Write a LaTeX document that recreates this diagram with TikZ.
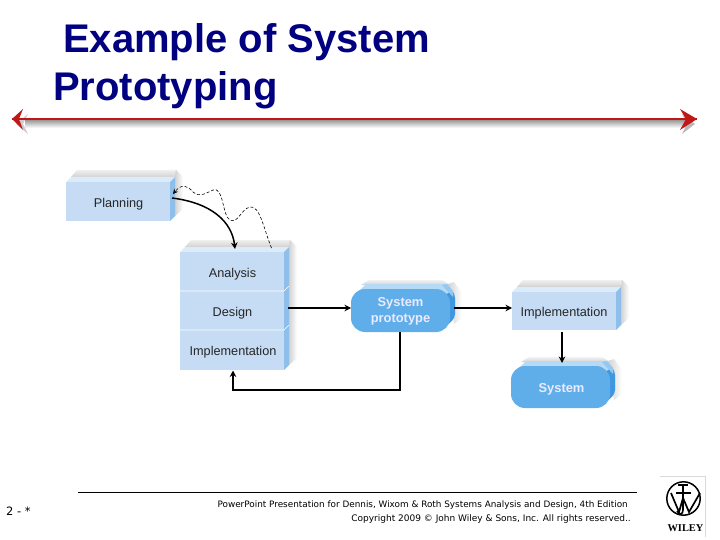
\documentclass[tikz,border=0pt]{standalone}
\usepackage{fontspec}
\setmainfont{Liberation Sans}
\newfontfamily\foot{DejaVu Sans}
\newfontfamily\wil{Liberation Serif}
\usetikzlibrary{arrows.meta,calc}
\definecolor{front}{HTML}{C5DCF4}
\definecolor{sidec}{HTML}{8DBFEA}
\definecolor{topc}{HTML}{DCEBFA}
\definecolor{shadowc}{HTML}{D2D2D2}
\definecolor{bluec}{HTML}{5FAEEA}
\definecolor{bluedark}{HTML}{3F97E0}
\definecolor{bluelight}{HTML}{B5DAF5}
\definecolor{navy}{HTML}{000080}
\definecolor{redl}{HTML}{C01818}
\tikzset{
 x=1pt,y=-1pt,
 lbl/.style={font=\fontsize{12.7}{14}\selectfont,text=black!85,inner sep=0pt},
 wlbl/.style={font=\fontsize{12.9}{16}\selectfont\bfseries,text=white!92!blue,align=center,inner sep=0pt},
 flow/.style={draw=black,line width=1.2pt,-{Stealth[length=6.5pt,width=6.5pt]}},
 ttl/.style={font=\fontsize{40}{48}\selectfont\bfseries,text=navy,anchor=base west,inner sep=0pt},
 foottext/.style={font=\fontsize{8.85}{11}\selectfont\foot,text=black,inner sep=0pt},
}
\newcommand{\slab}[4]{% x1,y1,x2,y2 front face
 \shade[top color=black!6,bottom color=shadowc] (#1+5,#2-5) -- (#1+11,#2-12) -- (#3+6,#2-12) -- (#3+5,#2-5) -- cycle;
 \shade[left color=shadowc,right color=white] (#3+5,#2-5) -- (#3+6,#2-12) -- (#3+13,#2-5) -- (#3+13,#4-12) -- (#3+5,#4-5) -- cycle;
 \fill[topc] (#1,#2) -- (#1+5,#2-5) -- (#3+5,#2-5) -- (#3,#2) -- cycle;
 \fill[sidec] (#3,#2) -- (#3+5,#2-5) -- (#3+5,#4-5) -- (#3,#4) -- cycle;
 \fill[front] (#1,#2) rectangle (#3,#4);
}
\newcommand{\pill}[4]{%
 \shade[top color=black!5,bottom color=shadowc] (#1+10,#2-4) -- (#1+18,#2-9) -- (#3-8,#2-9) -- (#3,#2-4) -- cycle;
 \shade[left color=shadowc,right color=white] (#3-2,#2-5) -- (#3+4,#2-7) -- (#3+12,#2+4) -- (#3+12,#4-14) -- (#3+4,#4-8) -- cycle;
 \fill[bluedark,rounded corners=4pt] (#3-14,#2+0) -- (#3-1,#2-2) -- (#3+5,#2+5) -- (#3+5,#4-14) -- (#3-8,#4-2) -- (#3-14,#4-2) -- cycle;
 \fill[bluelight] (#1+8,#2+2) -- (#1+15,#2-5) -- (#3-6,#2-5) -- (#3+1,#2+2) -- (#3-5,#2+6) -- cycle;
 \fill[bluelight!60!bluec] (#3-8,#2-4) -- (#3-3,#2-5) -- (#3+3,#2+2) -- (#3+3,#2+8) -- cycle;
 \fill[bluec,rounded corners=14pt] (#1,#2) rectangle (#3,#4);
}
\begin{document}
\begin{tikzpicture}
\useasboundingbox (0,0) rectangle (720,540);
\fill[white] (0,0) rectangle (720,540);
% title
\node[ttl] (t1) at (63,53) {Example of System};
\node[ttl] (t2) at (53,101) {Prototyping};
% red rule with shadow
\coordinate (rl) at (12,119);
\coordinate (rr) at (697,119);
\shade[top color=black!35,bottom color=white] (25,121) rectangle (688,128);
\fill[black!28] (695,124) -- (682,114) -- (687,124) -- (682,134) -- cycle;
\fill[black!20] (16,124) -- (28,114) -- (23,124) -- (28,134) -- cycle;
\draw[redl,line width=2.2pt] (rl) -- (rr);
\fill[redl] (rl) -- (23,109) -- (19,119) -- (23,130) -- cycle;
\fill[redl] (rr) -- (680,109) -- (686,119) -- (680,130) -- cycle;
% boxes
\slab{66}{182}{170}{221}
\slab{180}{252}{284}{370}
\slab{512}{292}{616}{330}
\pill{351}{289}{450}{332}
\pill{511}{366}{610}{408}
\draw[white,line width=.7pt] (180,291) -- (284,291) -- (289,286);
\draw[white,line width=.7pt] (180,330) -- (284,330) -- (289,325);
% named nodes
\node[lbl] (plan) at (118.5,204) {Planning};
\node[lbl] (ana) at (232.5,274) {Analysis};
\node[lbl] (des) at (232.5,313) {Design};
\node[lbl] (imp) at (233,352) {Implementation};
\node[wlbl] (sp) at (400.5,311.5) {System\\prototype};
\node[lbl] (imp2) at (564,313.5) {Implementation};
\node[wlbl] (sys) at (561.5,389) {System};
% anchors for connectors
\coordinate (planE) at (172,198);
\coordinate (anaN) at (235,249);
\coordinate (back) at (271.5,248);
\coordinate (planEr) at (173,194);
\coordinate (desE) at (288,308);
\coordinate (spW) at (351,308);
\coordinate (spE) at (454,308);
\coordinate (imp2W) at (512,308);
\coordinate (imp2S) at (562,332);
\coordinate (sysN) at (562,363);
\coordinate (spS) at (400,332);
\coordinate (impS) at (233,370.5);
% connectors
\draw[flow,line width=1.5pt] (planE) .. controls (212,203) and (232,222) .. (anaN);
\draw[black,line width=.6pt,densely dashed,-{Stealth[length=5pt,width=5pt]}]
  (back) .. controls (264,230) and (260,205) .. (250,207)
  .. controls (241,209) and (238,224) .. (230,220)
  .. controls (222,216) and (224,186) .. (213,190)
  .. controls (206,193) and (200,198) .. (193,192)
  .. controls (188,186) and (182,183) .. (planEr);
\draw[flow] (desE) -- (spW);
\draw[flow] (spE) -- (imp2W);
\draw[flow] (imp2S) -- (sysN);
\draw[flow] (spS) -- (400,390) -- (233,390) -- (impS);
% footer
\coordinate (fl) at (78,492);
\coordinate (fr) at (637,492);
\draw[black,line width=.8pt] (fl) -- (fr);
\node[foottext,font=\fontsize{11.5}{13}\selectfont\foot,anchor=west] (pg) at (6,511) {2 - *};
\node[foottext,anchor=east] (f1) at (628,505) {PowerPoint Presentation for Dennis, Wixom \& Roth Systems Analysis and Design, 4th Edition};
\node[foottext,font=\fontsize{9}{11}\selectfont\foot,anchor=east] (f2) at (631,519) {Copyright 2009 © John Wiley \& Sons, Inc.  All rights reserved..};
% logo
\draw[black!15,line width=1pt] (660,476) -- (705,476) -- (705,537);
\draw[black,line width=1.5pt] (683.5,498.5) circle (16.7);
\draw[black,line width=1.7pt] (671,493) -- (679,512) -- (683,498) -- (689,512) -- (700,493);
\draw[black,line width=1.6pt] (683,485) -- (683,510) .. controls (683,515) and (679,515) .. (677,511);
\draw[black,line width=1.1pt] (678,485) -- (688,485);
\draw[black,line width=1.1pt] (676,493) -- (691,493);
\node[font=\fontsize{10.4}{12}\selectfont\bfseries\wil,inner sep=0pt] (wl) at (685.5,528) {WILEY};
\end{tikzpicture}
\end{document}
